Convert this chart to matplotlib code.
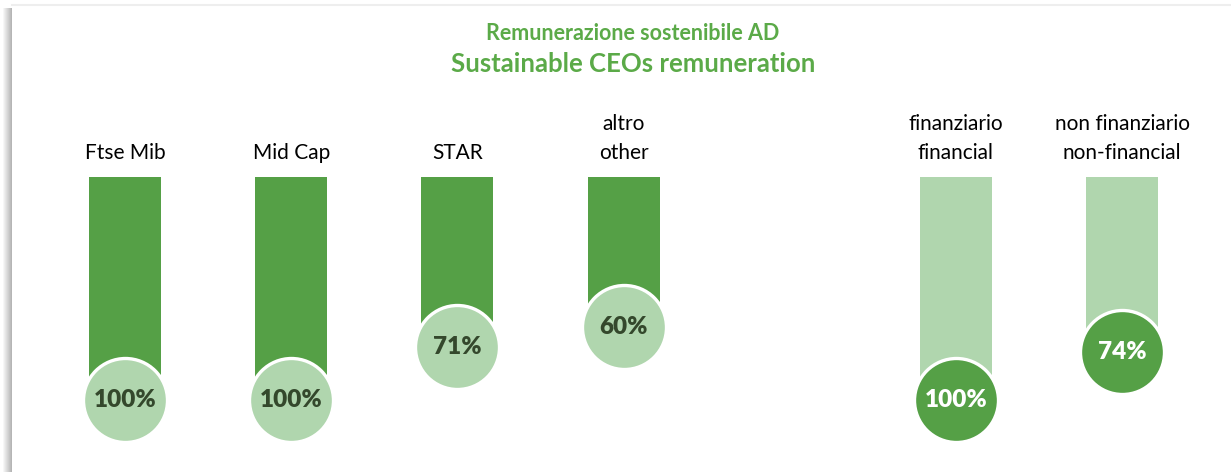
import matplotlib.pyplot as plt
from matplotlib.patches import Rectangle
from matplotlib.lines import Line2D

# dati
categorie = ['Ftse Mib', 'Mid Cap', 'STAR', 'altro\nother',
             'finanziario\nfinancial', 'non finanziario\nnon-financial']
valori = [100, 100, 71, 60, 100, 74]
etichette = ['100%', '100%', '71%', '60%', '100%', '74%']
posizioni = [0, 1, 2, 3, 5, 6]
gruppo = ['mercato', 'mercato', 'mercato', 'mercato', 'settore', 'settore']

verde_scuro = '#55A046'
verde_chiaro = '#B0D6AE'
testo_scuro = '#34482C'
font_testo = ['Lato', 'DejaVu Sans']

W, H = 1231, 472
fig = plt.figure(figsize=(W / 100, H / 100), dpi=100)
ax = fig.add_axes([0, 0, 1, 1])

# scala: 1 unità x = 166.2 px, 1% = 1.83 px, barra parte da 177 px
px_x = 166.2
px_y = 1.83
zero_px = 217
inizio = (177 - zero_px) / px_y
ax.set_xlim(-125 / px_x, (W - 125) / px_x)
ax.set_ylim((H - zero_px) / px_y, -zero_px / px_y)
ax.axis('off')

for x, v, lab, cat, g in zip(posizioni, valori, etichette, categorie, gruppo):
    col_barra = verde_scuro if g == 'mercato' else verde_chiaro
    col_cerchio = verde_chiaro if g == 'mercato' else verde_scuro
    col_testo = testo_scuro if g == 'mercato' else 'white'
    ax.bar(x, v - inizio, bottom=inizio, width=72 / px_x, color=col_barra, zorder=1)
    ax.scatter([x], [v], s=(84 * 0.72) ** 2, color=col_cerchio,
               edgecolors='white', linewidths=2.4, zorder=2)
    ax.text(x, v, lab, ha='center', va='center', fontsize=17.5, fontweight='heavy',
            color=col_testo, family=font_testo, zorder=3)
    ax.annotate(cat, (x, inizio), xytext=(0, 10), textcoords='offset points',
                ha='center', va='bottom', fontsize=15, linespacing=1.55,
                family=font_testo, color='black')

# titolo
fig.text(633 / W, 1 - 34 / H, 'Remunerazione sostenibile AD', ha='center', va='center',
         fontsize=15.5, fontweight='bold', color='#5BAA48', family=font_testo)
fig.text(633 / W, 1 - 64 / H, 'Sustainable CEOs remuneration', ha='center', va='center',
         fontsize=18.5, fontweight='bold', color='#5BAA48', family=font_testo)

# bordo/ombra della cornice
fig.add_artist(Line2D([12 / W, 1], [1 - 5 / H, 1 - 5 / H], color='#EEEEEE', linewidth=1.5))
for i in range(9):
    a = 0.08 + 0.08 * i
    fig.add_artist(Rectangle(((3 + i) / W, 0), 1 / W, 1 - 8 / H,
                             facecolor='#999999', alpha=a, edgecolor='none'))

fig.savefig('out.png', dpi=100)
